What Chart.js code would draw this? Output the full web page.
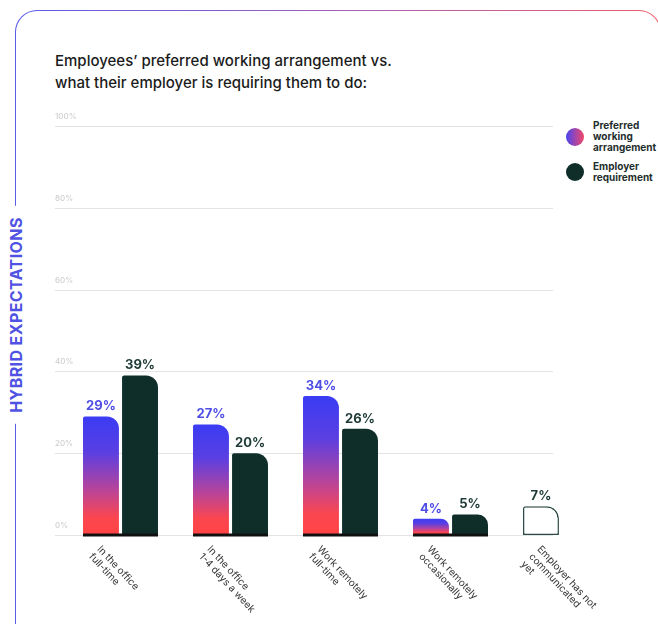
<!DOCTYPE html>
<html>
<head>
<meta charset="utf-8">
<script src="https://cdn.jsdelivr.net/npm/chart.js@4.4.1/dist/chart.umd.min.js"></script>
<style>
  html, body { margin: 0; padding: 0; background: #fff; }
  body { width: 658px; height: 624px; position: relative; overflow: hidden; font-family: Inter, "Noto Sans", sans-serif; }
  .card {
    position: absolute; left: 15px; top: 10px; width: 646px; height: 640px;
    box-sizing: border-box; border: 1.5px solid transparent; border-radius: 22px;
    background: linear-gradient(#fff, #fff) padding-box,
                linear-gradient(90deg, #5a5cea 0%, #a060b8 50%, #f0606c 100%) border-box;
  }
  .side {
    position: absolute; left: 16px; top: 315px; transform: translate(-50%, -50%) rotate(-90deg);
    background: #fff; padding: 0 11px; white-space: nowrap;
    color: #4f52e2; font-weight: 700; font-size: 16px; letter-spacing: 0.4px;
  }
  .title {
    position: absolute; left: 55px; top: 50px; color: #1b1b1b;
    font-size: 15px; font-weight: 500; line-height: 22px;
  }
  .legend { position: absolute; left: 566px; top: 120px; }
  .legend .item { display: flex; align-items: center; margin-bottom: 8px; }
  .legend .dot { width: 18px; height: 18px; border-radius: 50%; margin-right: 9px; flex: none; }
  .legend .lbl { font-size: 10px; font-weight: 700; line-height: 11px; color: #1e2e2c; }
  canvas { position: absolute; left: 0; top: 0; }
</style>
</head>
<body>
<div class="card"></div>
<div class="side">HYBRID EXPECTATIONS</div>
<div class="title">Employees’ preferred working arrangement vs.<br>what their employer is requiring them to do:</div>
<div class="legend">
  <div class="item"><span class="dot" style="background:linear-gradient(90deg,#4a44f0,#f2486a)"></span><span class="lbl">Preferred<br>working<br>arrangement</span></div>
  <div class="item"><span class="dot" style="background:#0f2e2a"></span><span class="lbl">Employer<br>requirement</span></div>
</div>
<canvas id="chart" width="658" height="624"></canvas>

<script>
// data
const categories = [
  ["In the office", "full-time"],
  ["In the office", "1-4 days a week"],
  ["Work remotely", "full-time"],
  ["Work remotely", "occasionally"],
  ["Employer has not", "communicated", "yet"],
];
const preferred = [29, 27, 34, 4, null];
const employer = [39, 20, 26, 5, null];
const notCommunicated = [null, null, null, null, 7];
const yTicks = [0, 20, 40, 60, 80, 100];

const GRID_LEFT = 55;
const GRID_RIGHT = 553;
const DARK = "#0f2e2a";

// vertical blue -> red fill for each preferred bar
function barGradient(ctx) {
  const chart = ctx.chart;
  const v = ctx.parsed ? ctx.parsed.y : NaN;
  if (!chart.chartArea || !Number.isFinite(v)) return "#7a42c8";
  const y = chart.scales.y;
  const top = y.getPixelForValue(v);
  const bottom = y.getPixelForValue(0);
  if (!Number.isFinite(top) || !Number.isFinite(bottom)) return "#7a42c8";
  const g = chart.ctx.createLinearGradient(0, top, 0, bottom);
  g.addColorStop(0, "#3a3cf4");
  g.addColorStop(0.3, "#5a3fe2");
  g.addColorStop(0.62, "#b8449a");
  g.addColorStop(0.85, "#fb4650");
  g.addColorStop(1, "#ff4444");
  return g;
}

const decorations = {
  id: "decorations",
  beforeDatasetsDraw(chart) {
    const c = chart.ctx;
    const y = chart.scales.y;
    c.save();
    yTicks.forEach((t) => {
      const py = Math.round(y.getPixelForValue(t)) + 0.5;
      c.strokeStyle = "#e3e3e3";
      c.lineWidth = 1;
      c.beginPath();
      c.moveTo(GRID_LEFT, py);
      c.lineTo(GRID_RIGHT, py);
      c.stroke();
      c.fillStyle = "#cfcfcf";
      c.font = "500 8px Inter";
      c.textAlign = "left";
      c.textBaseline = "middle";
      c.fillText(t + "%", GRID_LEFT, py - 10);
    });
    c.restore();
  },
  afterDatasetsDraw(chart) {
    const c = chart.ctx;
    const x = chart.scales.x;
    const y = chart.scales.y;
    const m0 = chart.getDatasetMeta(0).data;
    const m1 = chart.getDatasetMeta(1).data;
    c.save();

    // thick baseline under each pair of bars
    const base = y.getPixelForValue(0);
    categories.forEach((_, i) => {
      if (preferred[i] == null || employer[i] == null) return;
      const a = m0[i], b = m1[i];
      c.fillStyle = "#111";
      c.fillRect(a.x - a.width / 2, base - 1.5, (b.x + b.width / 2) - (a.x - a.width / 2), 3);
    });

    // value labels
    c.font = "700 13px Inter";
    c.textAlign = "center";
    c.textBaseline = "middle";
    chart.data.datasets.forEach((ds, di) => {
      const meta = chart.getDatasetMeta(di).data;
      ds.data.forEach((v, i) => {
        if (v == null) return;
        const el = meta[i];
        c.fillStyle = di === 0 ? "#4e4ee6" : "#1f3b37";
        c.fillText(v + "%", el.x, el.y - 10);
      });
    });

    // rotated category labels
    c.font = "400 10px Inter";
    c.fillStyle = "#333";
    c.textAlign = "left";
    c.textBaseline = "top";
    categories.forEach((lines, i) => {
      c.save();
      c.translate(x.getPixelForValue(i) - 18, base + 9);
      c.rotate((47 * Math.PI) / 180);
      lines.forEach((s, k) => c.fillText(s, 0, k * 11));
      c.restore();
    });
    c.restore();
  },
};

const shape = { topLeft: 2, topRight: 12, bottomLeft: 0, bottomRight: 0 };

new Chart(document.getElementById("chart"), {
  type: "bar",
  data: {
    labels: categories,
    datasets: [
      {
        label: "Preferred working arrangement",
        data: preferred,
        stack: "a",
        backgroundColor: barGradient,
        borderRadius: shape,
        borderSkipped: "bottom",
      },
      {
        label: "Employer requirement",
        data: employer,
        stack: "b",
        backgroundColor: DARK,
        borderRadius: shape,
        borderSkipped: "bottom",
      },
      {
        label: "Employer has not communicated yet",
        data: notCommunicated,
        stack: "a",
        backgroundColor: "#fff",
        borderColor: "#2c4a45",
        borderWidth: 1.5,
        borderRadius: shape,
        borderSkipped: false,
      },
    ],
  },
  options: {
    responsive: false,
    animation: false,
    categoryPercentage: 0.71,
    barPercentage: 0.92,
    layout: { padding: { left: 65.5, right: 42.5, top: 126, bottom: 89 } },
    scales: {
      x: { display: false, stacked: true },
      y: { display: false, stacked: true, min: 0, max: 100 },
    },
    plugins: {
      legend: { display: false },
      tooltip: { enabled: false },
    },
  },
  plugins: [decorations],
});
</script>
</body>
</html>
